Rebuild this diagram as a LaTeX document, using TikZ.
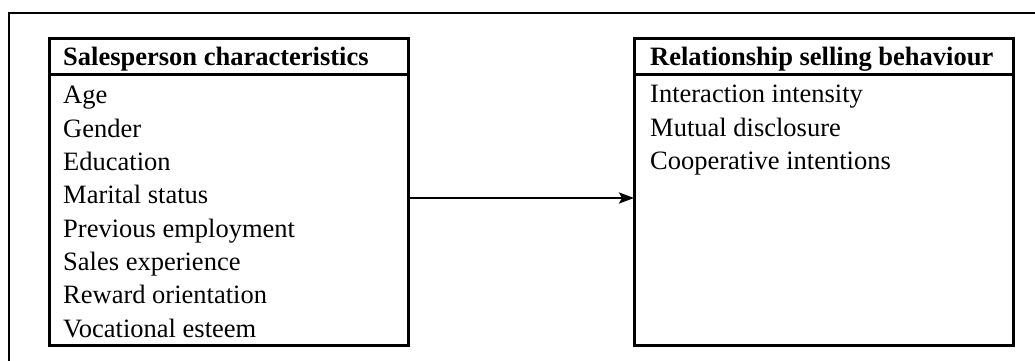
\documentclass[tikz,border=0pt]{standalone}
\usepackage{fontspec}
\setmainfont{Liberation Serif}
\usepackage{tikz}
\usetikzlibrary{arrows.meta,positioning}
\tikzset{%
  >={Stealth[length=15pt,width=11pt,inset=3pt]},
  % Specifications for style of nodes:
       base/.style = {rectangle, draw=black, line width=3pt,
                      outer sep=0pt, inner sep=0pt},
    headbox/.style = {base, minimum height=36pt},
    bodybox/.style = {base, minimum height=271pt},
   headtext/.style = {anchor=base west, inner sep=0pt,
                      font=\fontsize{26.5}{30}\selectfont\bfseries},
   itemtext/.style = {anchor=base west, inner sep=0pt,
                      font=\fontsize{26.5}{30}\selectfont},
}

\begin{document}
\begin{tikzpicture}[x=1pt, y=1pt]
  \useasboundingbox (0,0) rectangle (1035,361);
  % Outer frame (only top and left edges show)
  \coordinate (frameCorner) at (9,348);
  \coordinate (frameBottom) at (9,-3);
  \coordinate (frameRight) at (1038,348);
  \draw[line width=2.8pt] (frameBottom) -- (frameCorner) -- (frameRight);
  % Specification of boxes (position, etc.)
  \node (salesHead) [headbox, minimum width=359pt, anchor=north west] at (49,322) {};
  \node (salesBody) [bodybox, minimum width=359pt, below=0pt of salesHead] {};
  \node (sellHead) [headbox, minimum width=379pt, anchor=north west] at (634,322) {};
  \node (sellBody) [bodybox, minimum width=379pt, below=0pt of sellHead] {};
  % Titles and lists inside the boxes
  \node (salesTitle) [headtext] at ([shift={(14pt,-26.5pt)}]salesHead.north west)
    {Salesperson characteristics};
  \node (sellTitle) [headtext] at ([shift={(16pt,-26.5pt)}]sellHead.north west)
    {Relationship selling behaviour};
  \foreach \txt [count=\i] in {Age, Gender, Education, Marital status,
      Previous employment, Sales experience, Reward orientation, Vocational esteem}
    \node (salesItem\i) [itemtext] at ([shift={(14pt,{-29pt-(\i-1)*33.3pt})}]salesBody.north west) {\txt};
  \foreach \txt [count=\i] in {Interaction intensity, Mutual disclosure,
      Cooperative intentions}
    \node (sellItem\i) [itemtext] at ([shift={(16pt,{-28pt-(\i-1)*33.3pt})}]sellBody.north west) {\txt};
  % Specification of the line between the boxes
  \draw[->, line width=2.6pt] ([yshift=12.5pt]salesBody.east) -- ([yshift=12.5pt]sellBody.west);
\end{tikzpicture}
\end{document}
